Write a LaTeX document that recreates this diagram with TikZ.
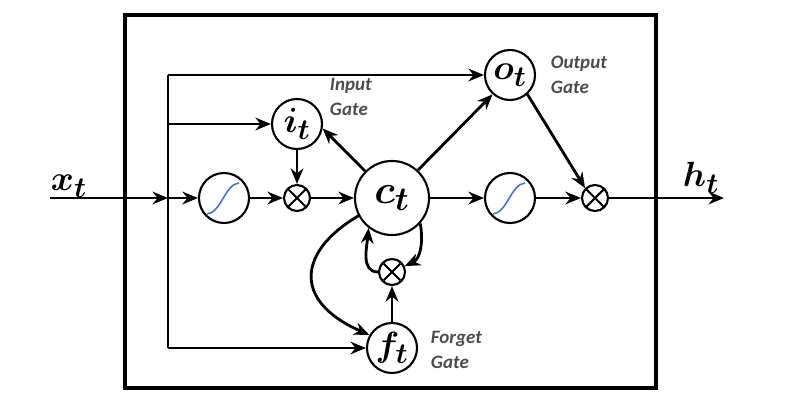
\documentclass[tikz,border=0pt]{standalone}
\usepackage{amsmath,bm}
\usepackage{fontspec}
\setsansfont{Carlito}
\usetikzlibrary{arrows.meta,calc,positioning}
\definecolor{sigblue}{RGB}{68,114,196}
\tikzset{
  gate/.style={circle,draw,line width=1.5pt,minimum size=1.25cm,inner sep=0pt,font=\Huge},
  cell/.style={gate,minimum size=1.85cm},
  mul/.style={circle,draw,line width=1.5pt,minimum size=0.65cm,inner sep=0pt,
    path picture={\draw[line width=1.5pt]
      (path picture bounding box.north west)--(path picture bounding box.south east)
      (path picture bounding box.north east)--(path picture bounding box.south west);}},
  sig/.style={gate,
    path picture={\draw[sigblue,line width=1.1pt]
      ($(path picture bounding box.center)+(-17,16)$) .. controls +(14,-1) and +(-14,1) ..
      ($(path picture bounding box.center)+(15,-15)$);}},
  note/.style={font=\sffamily\itshape\bfseries\fontsize{13.5}{18}\selectfont,text=black!70,align=left,anchor=west},
  wire/.style={line width=2pt}
}
\tikzstyle{arrow} = [wire,-{Stealth[length=11pt,width=9pt]}]

\begin{document}
\begin{tikzpicture}[x=0.025cm,y=-0.025cm]
  \useasboundingbox (0,0) rectangle (798,416);
  \draw[line width=2.4pt] (125,15) rectangle (656,388);
  % gates and cell
  \node[sig] (s1) at (224,198) {};
  \node[mul] (m1) at (297,198) {};
  \node[gate] (i) at (297,124) {$\bm{i_t}$};
  \node[cell] (c) at (392,198) {\scalebox{1.15}{$\bm{c_t}$}};
  \node[gate] (o) at (510,75) {$\bm{o_t}$};
  \node[sig] (s2) at (510,198) {};
  \node[mul] (m2) at (595,198) {};
  \node[mul] (m3) at (392,272) {};
  \node[gate] (f) at (392,348) {$\bm{f_t}$};
  % ends and branch points
  \coordinate (xin) at (50,198);
  \coordinate (jx) at (168,198);
  \coordinate (jt) at (168,75);
  \coordinate (ji) at (168,124);
  \coordinate (jf) at (168,348);
  \coordinate (hout) at (724,198);
  \node[font=\Huge,anchor=south west] (xlbl) at (46,202) {$\bm{x_t}$};
  \node[font=\Huge,anchor=south west] (hlbl) at (678,198) {$\bm{h_t}$};
  \node[note] (ilbl) at (325,97) {Input\\Gate};
  \node[note] (olbl) at (546,75) {Output\\Gate};
  \node[note] (flbl) at (426,350) {Forget\\Gate};
  % connectors
  \draw[wire] (jt) -- (jf);
  \draw[arrow] (xin) -- (jx);
  \draw[arrow] (jx) -- (s1);
  \draw[arrow] (jt) -- (o);
  \draw[arrow] (ji) -- (i);
  \draw[arrow] (jf) -- (f);
  \draw[arrow] (s1) -- (m1);
  \draw[arrow] (i) -- (m1);
  \draw[arrow] (m1) -- (c);
  \draw[arrow] (c.135) -- (i.-10);
  \draw[arrow] (c.47) -- (o.228);
  \draw[arrow] (o.-48) -- (m2.135);
  \draw[arrow] (c) -- (s2);
  \draw[arrow] (s2) -- (m2);
  \draw[arrow] (m2) -- (hout);
  \draw[arrow] (f) -- (m3);
  \draw[arrow] (c.208) .. controls (300,250) and (290,300) .. (f.150);
  \draw[arrow] (m3.west) to[out=180,in=-95] (c.232);
  \draw[arrow] (c.-42) to[out=-80,in=25] (m3.25);
\end{tikzpicture}
\end{document}
